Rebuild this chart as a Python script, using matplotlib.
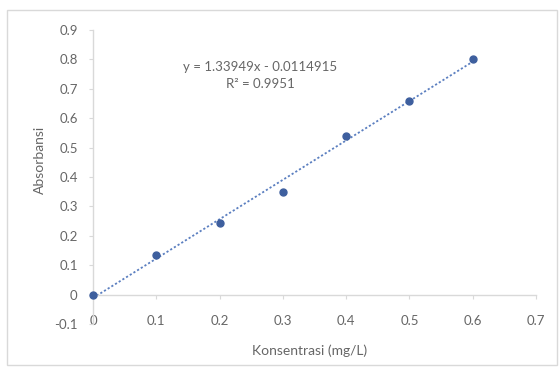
import numpy as np
import matplotlib
matplotlib.use("Agg")
import matplotlib.pyplot as plt
from matplotlib.patches import Rectangle

# Data
konsentrasi = [0.0, 0.1, 0.2, 0.3, 0.4, 0.5, 0.6]
absorbansi = [0.0, 0.135, 0.245, 0.35, 0.54, 0.66, 0.80]
x_ticks = [0, 0.1, 0.2, 0.3, 0.4, 0.5, 0.6, 0.7]
y_ticks = [-0.1, 0, 0.1, 0.2, 0.3, 0.4, 0.5, 0.6, 0.7, 0.8, 0.9]
eq_text = "y = 1.33949x - 0.0114915"
r2_text = "R² = 0.9951"
slope, intercept = 1.33949, -0.0114915

plt.rcParams['font.family'] = ['Lato', 'DejaVu Sans']
txt_col = '#666666'

fig = plt.figure(figsize=(5.6, 3.67), dpi=100)
fig.patches.append(Rectangle((7/560, 2/367), 550/560, 355/367, transform=fig.transFigure,
                             fill=False, edgecolor='#d9d9d9', linewidth=1.0))

ax = fig.add_axes([93/560, 43/367, 443/560, 294/367])
ax.set_xlim(0, 0.7)
ax.set_ylim(-0.1, 0.9)

for s in ['top', 'right']:
    ax.spines[s].set_visible(False)
ax.spines['bottom'].set_position(('data', 0))
ax.spines['left'].set_position(('data', 0))
for s in ['bottom', 'left']:
    ax.spines[s].set_color('#d9d9d9')
    ax.spines[s].set_linewidth(1.0)

ax.set_xticks(x_ticks)
ax.set_xticklabels([f"{v:g}" for v in x_ticks])
ax.set_yticks(y_ticks)
ax.set_yticklabels([f"{v:g}" for v in y_ticks])
ax.tick_params(axis='both', colors='#d9d9d9', labelcolor=txt_col, labelsize=9.5, length=3)
ax.tick_params(axis='x', pad=12)
ax.tick_params(axis='y', pad=8)

xs = np.array([konsentrasi[0], konsentrasi[-1]])
ax.plot(xs, slope * xs + intercept, linestyle=(0, (1.2, 1.2)), color='#5b7fc0', linewidth=1.3, zorder=2)
ax.plot(konsentrasi, absorbansi, 'o', color='#3e5f9e', markersize=5, zorder=3, clip_on=False)

fig.text(260/560, 1 - 67/367, eq_text, ha='center', va='center', fontsize=9.5, color=txt_col)
fig.text(260/560, 1 - 84/367, r2_text, ha='center', va='center', fontsize=9.5, color=txt_col)

fig.text(310/560, 1 - 351/367, "Konsentrasi (mg/L)", ha='center', va='center', fontsize=10, color=txt_col)
fig.text(40/560, 1 - 160/367, "Absorbansi", ha='center', va='center', rotation=90, fontsize=10, color=txt_col)

fig.savefig("out.png", dpi=100)
